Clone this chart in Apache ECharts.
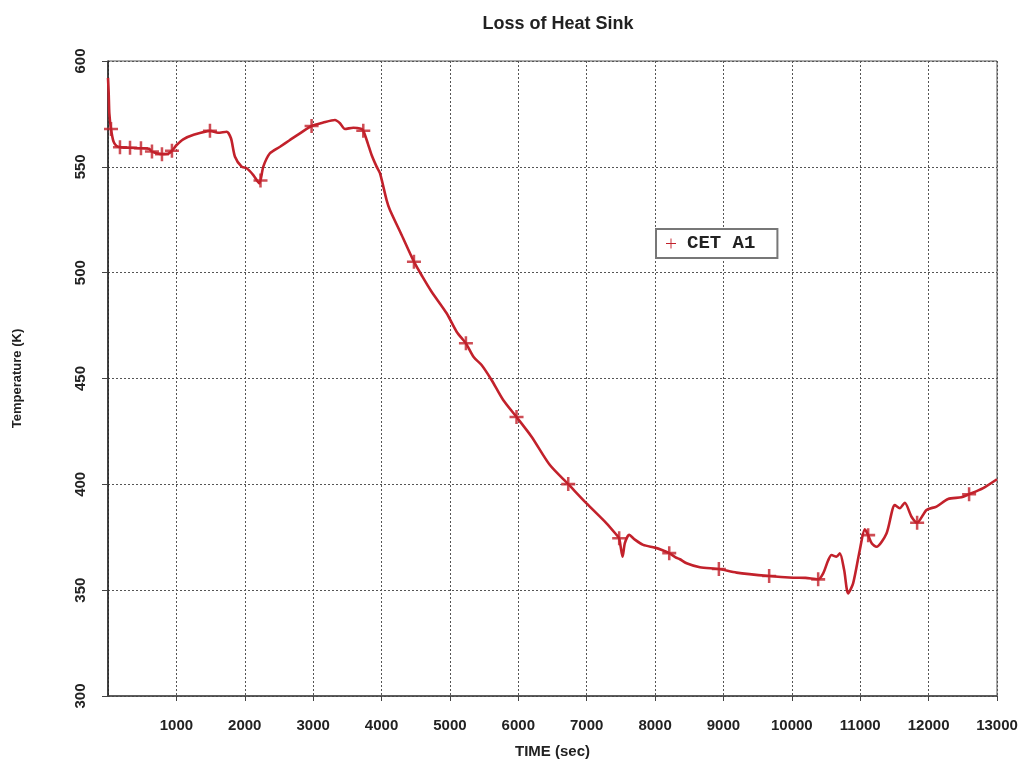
<!DOCTYPE html>
<html>
<head>
<meta charset="utf-8">
<script src="https://cdn.jsdelivr.net/npm/echarts@6/dist/echarts.min.js"></script>
<style>html,body{margin:0;padding:0;background:#fff;}#c{width:1022px;height:765px;}</style>
</head>
<body>
<div id="c"></div>
<script>
const titleText = 'Loss of Heat Sink';
const seriesName = 'CET A1';
const xTicks = [0,1000,2000,3000,4000,5000,6000,7000,8000,9000,10000,11000,12000,13000];
const yTicks = [300,350,400,450,500,550,600];

const lineTimes = [0,10,20,44,80,120,175,322,482,600,643,789,880,935,1004,1100,1243,1491,1608,1735,1798,1857,1954,2027,2125,2212,2271,2368,2515,2661,2807,2977,3148,3319,3392,3465,3587,3700,3733,3800,3855,3928,3977,4074,4123,4294,4474,4600,4732,4952,5098,5234,5350,5463,5609,5779,5974,6194,6462,6730,6998,7290,7437,7475,7525,7558,7621,7700,7826,7997,8100,8207,8300,8363,8461,8655,8933,9191,9668,10019,10200,10385,10458,10530,10580,10653,10702,10765,10823,10896,10994,11067,11116,11170,11238,11384,11506,11579,11652,11750,11832,11969,12115,12285,12480,12592,12797,13000];
const lineTemps = [592,585,575,567.9,562,560,559.3,559,558.8,558.5,557.2,556,556.2,557.6,560.3,563,565,567,566.1,566.6,563.5,554.8,550.1,549.3,546.1,542.2,550.1,556.4,559.5,562.7,565.8,569.3,570.9,572.1,570.6,567.9,568.5,568,567.1,561,555.6,550.1,547,534.3,529.6,517.8,505.2,498,491,480.8,472.1,466.6,460,456.4,449.3,439.8,431.8,422.5,409.1,400.1,391,381.6,376.1,374.5,365.8,372.2,376.1,374,371.4,370.1,369,367.5,365.5,364.6,362.7,360.8,360,358.3,356.7,355.9,355.8,355.1,357.9,364,366.6,365.8,367.4,359.5,348.5,353.2,369,378.7,376,372,370.5,376.8,390.2,388.7,391.3,384.7,381.9,387.9,389.5,393.1,393.9,395.3,398.2,402.4];

const markerTimes = [44,175,322,482,643,789,935,1491,2230,2977,3733,4474,5234,5974,6730,7475,8207,8933,9668,10385,11116,11832,12592];
const markerTemps = [567.9,559.3,559,558.8,557.2,556,557.6,567,543.5,569.3,567.1,505.2,466.6,431.8,400.1,374.5,367.5,360,356.7,355.1,376,381.9,395.3];

const RED = '#c2212b';
const PLUS = 'path://M4.1,0 H5.9 V4.1 H10 V5.9 H5.9 V10 H4.1 V5.9 H0 V4.1 H4.1 Z';
const PLUS_THIN = 'path://M4.55,0 H5.45 V4.55 H10 V5.45 H5.45 V10 H4.55 V5.45 H0 V4.55 H4.55 Z';
const SANS = "'Liberation Sans','Arial',sans-serif";

const lineData = lineTimes.map((t,i)=>[t,lineTemps[i]]);
const markerData = markerTimes.map((t,i)=>[t,markerTemps[i]]);

const chart = echarts.init(document.getElementById('c'), null, {renderer:'canvas'});
chart.setOption({
  backgroundColor:'#fff',
  animation:false,
  title:{text:titleText,left:553,textAlign:'center',top:10,
    textStyle:{fontFamily:SANS,fontWeight:'bold',fontSize:18,color:'#222'}},
  grid:{left:108,right:25,top:61,bottom:69,show:true,borderColor:'#555',borderWidth:1},
  legend:{
    data:[{name:seriesName,icon:PLUS_THIN}],
    left:656,top:229,itemWidth:10,itemHeight:10,itemGap:10,
    padding:[5,22,5,10],
    borderColor:'#777',borderWidth:2,backgroundColor:'#fff',
    textStyle:{fontFamily:"'Liberation Mono','DejaVu Sans Mono',monospace",fontWeight:'bold',fontSize:19,color:'#222',padding:[0,0,0,6]}
  },
  xAxis:{type:'value',min:xTicks[0],max:xTicks[xTicks.length-1],interval:1000,
    name:'TIME (sec)',nameLocation:'middle',nameGap:48,
    nameTextStyle:{fontFamily:SANS,fontWeight:'bold',fontSize:15,color:'#222'},
    axisLine:{show:true,lineStyle:{color:'#444',width:1.5}},
    axisTick:{show:true,length:5,lineStyle:{color:'#444'}},
    axisLabel:{showMinLabel:false,margin:22,formatter:v=>String(v),fontFamily:SANS,fontWeight:'bold',fontSize:15,color:'#222'},
    splitLine:{show:true,lineStyle:{type:[2,2],color:'#555',width:1}}
  },
  yAxis:{type:'value',min:yTicks[0],max:yTicks[yTicks.length-1],interval:50,
    name:'Temperature (K)',nameLocation:'middle',nameGap:84,nameRotate:90,
    nameTextStyle:{fontFamily:SANS,fontWeight:'bold',fontSize:13,color:'#222'},
    axisLine:{show:true,lineStyle:{color:'#222',width:1.5}},
    axisTick:{show:true,length:6,lineStyle:{color:'#444'}},
    axisLabel:{rotate:90,margin:20,fontFamily:SANS,fontWeight:'bold',fontSize:15,color:'#222'},
    splitLine:{show:true,lineStyle:{type:[2,2],color:'#555',width:1}}
  },
  series:[
    {name:seriesName,type:'line',data:lineData,showSymbol:false,symbol:'none',smooth:0.25,
      lineStyle:{color:RED,width:2.6},itemStyle:{color:RED}},
    {name:'markers',type:'scatter',data:markerData,symbol:PLUS,symbolSize:14,
      itemStyle:{color:RED},z:3}
  ]
});
</script>
</body>
</html>
